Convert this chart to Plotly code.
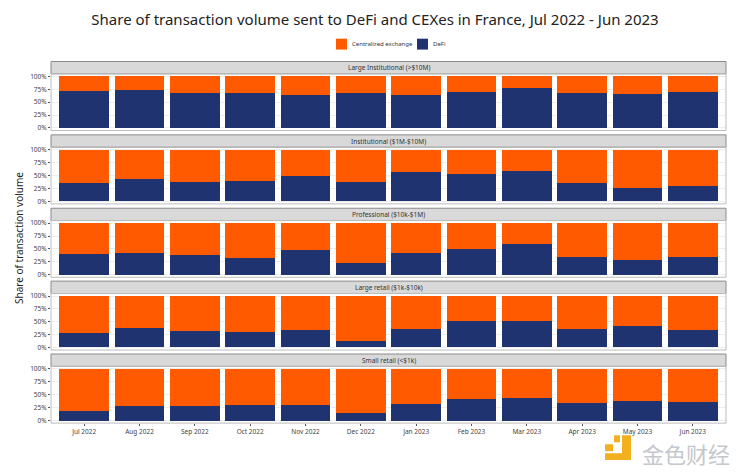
import plotly.graph_objects as go

months = ["Jul 2022","Aug 2022","Sep 2022","Oct 2022","Nov 2022","Dec 2022",
          "Jan 2023","Feb 2023","Mar 2023","Apr 2023","May 2023","Jun 2023"]
panel_titles = ["Large Institutional (>$10M)", "Institutional ($1M-$10M)",
                "Professional ($10k-$1M)", "Large retail ($1k-$10k)", "Small retail (<$1k)"]
defi_large_inst = [72, 74, 67, 68, 64, 67, 63, 69, 77, 67.5, 66.5, 70]
defi_inst = [36, 44, 38, 39, 49, 38, 56, 52.5, 58.5, 35, 25.5, 29]
defi_prof = [40, 43, 39, 33, 47, 22, 42, 50, 60, 34, 28, 35]
defi_large_retail = [28, 38, 32, 30, 34, 12, 35, 51, 51, 36, 42, 34]
defi_small_retail = [19, 28, 28, 31, 30, 14, 33, 41, 43, 34, 38, 36]
panels = [defi_large_inst, defi_inst, defi_prof, defi_large_retail, defi_small_retail]
y_ticks = [0, 25, 50, 75, 100]
y_labels = ["0%", "25%", "50%", "75%", "100%"]

W, H = 750, 475
ORANGE, NAVY = "#FF5A00", "#1F3370"
TXT = "#444444"
FONT = "Noto Sans"
L, R = 51, 726
# pixel bounds of each panel: (strip top, plot top, plot bottom)
bounds = [(60, 72.4, 129.6), (134, 146.4, 203.6), (208, 220.4, 277.6),
          (281.5, 294, 351), (355, 367.5, 424.7)]

fig = go.Figure()
shapes, annotations = [], []
def py(v): return 1 - v / H
def px(v): return v / W

for i, (vals, title, (st, pt, pb)) in enumerate(zip(panels, panel_titles, bounds)):
    n = "" if i == 0 else str(i + 1)
    cex = [100 - v for v in vals]
    common = dict(x=months, xaxis="x" + n, yaxis="y" + n, width=0.9,
                  showlegend=False, marker_line=dict(width=0))
    fig.add_bar(y=vals, name="DeFi", marker_color=NAVY, **common)
    fig.add_bar(y=cex, name="Centralized exchange", marker_color=ORANGE, **common)
    fig.layout["xaxis" + n] = dict(
        domain=[px(L), px(R)], anchor="y" + n, type="category",
        range=[-0.6, 11.6], categoryorder="array", categoryarray=months,
        showgrid=False, zeroline=False, ticks="outside" if i == 4 else "",
        ticklen=2, tickcolor="#555555", showticklabels=i == 4,
        tickfont=dict(size=6.5, color=TXT, family=FONT),
        showline=False)
    fig.layout["yaxis" + n] = dict(
        domain=[py(pb), py(pt)], anchor="x" + n, range=[-5, 105],
        tickvals=y_ticks, ticktext=y_labels, ticks="outside", ticklen=2,
        tickcolor="#555555", tickfont=dict(size=6.5, color=TXT, family=FONT),
        showgrid=True, gridcolor="#EEEEEE", gridwidth=0.5, zeroline=False, showline=False)
    shapes.append(dict(type="rect", xref="paper", yref="paper", x0=px(L), x1=px(R),
                       y0=py(pb), y1=py(pt), line=dict(color="#BDBDBD", width=1), layer="above"))
    shapes.append(dict(type="rect", xref="paper", yref="paper", x0=px(L), x1=px(R),
                       y0=py(pt), y1=py(st), fillcolor="#D9D9D9",
                       line=dict(color="#8A8A8A", width=1), layer="below"))
    annotations.append(dict(text=title, xref="paper", yref="paper", x=px((L + R) / 2),
                            y=py((st + pt) / 2), showarrow=False, xanchor="center", yanchor="middle",
                            font=dict(size=6.5, color="#333333", family=FONT)))

# legend
legend_items = [("Centralized exchange", ORANGE, 336), ("DeFi", NAVY, 417)]
for name, col, x0 in legend_items:
    shapes.append(dict(type="rect", xref="paper", yref="paper", x0=px(x0), x1=px(x0 + 11),
                       y0=py(48), y1=py(37), fillcolor=col, line=dict(width=0)))
    annotations.append(dict(text=name, xref="paper", yref="paper", x=px(x0 + 14), y=py(42.5),
                            xanchor="left", yanchor="middle", showarrow=False,
                            font=dict(size=6, color="#333333", family=FONT)))

annotations.append(dict(text="Share of transaction volume", xref="paper", yref="paper",
                        x=px(19), y=py(238), textangle=-90, showarrow=False,
                        xanchor="center", yanchor="middle",
                        font=dict(size=10, color="#222222", family=FONT)))
# watermark
annotations.append(dict(text="金色财经", xref="paper", yref="paper", x=px(686), y=py(455),
                        xanchor="center", yanchor="middle",
                        showarrow=False, font=dict(size=22, color="#C4C8CC", family="Noto Sans CJK SC")))
shapes.append(dict(type="path", xref="paper", yref="paper", layer="above",
                   path=f"M {px(622)} {py(437)} L {px(631)} {py(437)} L {px(631)} {py(462)} L {px(605)} {py(462)} "
                        f"L {px(605)} {py(455)} L {px(622)} {py(455)} Z",
                   fillcolor="#F2B01E", line=dict(width=0)))
shapes.append(dict(type="rect", xref="paper", yref="paper", x0=px(605), x1=px(613),
                   y0=py(453), y1=py(446), fillcolor="#F2B01E", line=dict(width=0)))
shapes.append(dict(type="rect", xref="paper", yref="paper", x0=px(614), x1=px(620),
                   y0=py(444), y1=py(437), fillcolor="#F2B01E", line=dict(width=0)))

fig.update_layout(
    width=W, height=H, autosize=False, barmode="stack", bargap=0.1,
    paper_bgcolor="white", plot_bgcolor="white",
    margin=dict(l=0, r=0, t=0, b=0), showlegend=False,
    title=dict(text="Share of transaction volume sent to DeFi and CEXes in France, Jul 2022 - Jun 2023",
               x=0.5, xanchor="center", y=py(20), yanchor="middle",
               font=dict(size=15, color="#222222", family=FONT)),
    shapes=shapes, annotations=annotations,
)
# the page's default body margin would otherwise push the fixed-size figure off the window
fig.write_html("out.html", config={"displayModeBar": False},
               post_script="document.body.style.margin='0';document.body.style.overflow='hidden';")
